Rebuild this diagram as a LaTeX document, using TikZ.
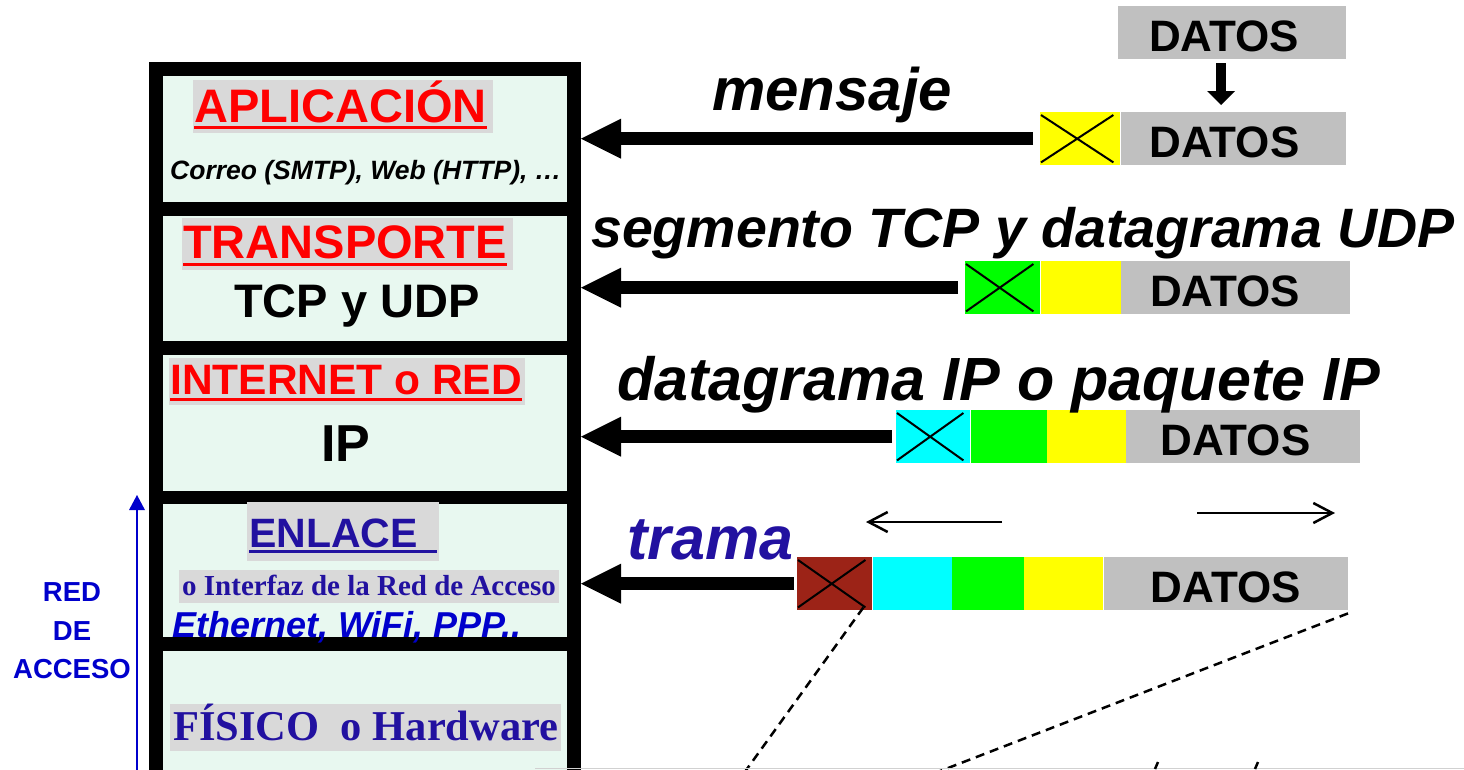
\documentclass[tikz,border=0pt]{standalone}
\usepackage{fontspec}
\setmainfont{Liberation Sans}
\newfontfamily\serifb{Liberation Serif}
\usetikzlibrary{arrows.meta,calc,positioning}
\definecolor{mint}{RGB}{232,248,240}
\definecolor{hlgray}{RGB}{217,217,217}
\definecolor{pktgray}{RGB}{192,192,192}
\definecolor{indigo}{RGB}{34,17,160}
\definecolor{brightblue}{RGB}{0,0,204}
\definecolor{brick}{RGB}{156,35,23}
\definecolor{hdryellow}{RGB}{255,255,0}
\definecolor{hdrgreen}{RGB}{0,255,0}
\definecolor{hdrcyan}{RGB}{0,255,255}
\newcommand{\fsz}[1]{\fontsize{#1}{#1}\selectfont}

\begin{document}
\begin{tikzpicture}[x=1pt,y=-1pt,
	stackbox/.style={fill=mint, minimum width=404pt, inner sep=0, anchor=north west},
	tag/.style={fill=hlgray, inner ysep=0, inner xsep=1pt, anchor=base west},
	cell/.style={minimum width=#1, minimum height=53pt, inner sep=0, anchor=north west},
	datos/.style={cell=#1, fill=pktgray, text width=#1, align=left, text height=38pt, text depth=0pt, font=\bfseries\fsz{44}},
	bigarr/.style={line width=13pt, -{Triangle[length=40pt,width=40pt,line width=0pt]}, shorten <=7pt},
	xcross/.style={line width=2pt},
	cutline/.style={line width=2.5pt, dash pattern=on 9pt off 6pt},
	thinarr/.style={line width=2.5pt, -{Straight Barb[length=19pt,width=20pt]}},
	heading/.style={anchor=base west, inner sep=0, font=\bfseries\itshape\fsz{#1}}]
		\useasboundingbox (0,0) rectangle (1464,769);

		% pila de capas
		\fill (149,62) rectangle (581,790);
		\coordinate (StackE) at (581,0);
		\node[stackbox, minimum height=126pt] (App) at (163,76) {};
		\node[stackbox, minimum height=125pt] (Trans) at (163,216) {};
		\node[stackbox, minimum height=136pt] (Net) at (163,355) {};
		\node[stackbox, minimum height=133pt] (Link) at (163,504) {};
		\node[stackbox, minimum height=140pt] (Phys) at (163,651) {};

		\node[tag, text height=42pt, text depth=11pt, text=red, font=\bfseries\fsz{47}] (AppTag) at (193,122) {APLICACIÓN\hspace*{5pt}};
		\draw[red, line width=3pt] ($(AppTag.base west)+(1,5)$) -- ($(AppTag.base east)+(-6,5)$);
		\node[anchor=base west, inner sep=0, font=\bfseries\itshape\fsz{26.5}] (Correo) at (170,179) {Correo (SMTP), Web (HTTP), …};

		\node[tag, text height=40pt, text depth=12pt, text=red, font=\bfseries\fsz{47}] (TransTag) at (182,258) {TRANSPORTE\hspace*{5pt}};
		\draw[red, line width=3pt] ($(TransTag.base west)+(1,6.5)$) -- ($(TransTag.base east)+(-6,6.5)$);
		\node[anchor=base, inner sep=0, font=\bfseries\fsz{47}] (TcpUdp) at (357,317) {TCP y UDP};

		\node[tag, text height=36pt, text depth=11pt, text=red, font=\bfseries\fsz{42.5}] (NetTag) at (169,394) {INTERNET o RED\hspace*{2pt}};
		\draw[red, line width=3pt] ($(NetTag.base west)+(1,5.5)$) -- ($(NetTag.base east)+(-3,5.5)$);
		\node[anchor=base, inner sep=0, font=\bfseries\fsz{52}] (IpTxt) at (346,461) {IP};

		\node[tag, inner xsep=2pt, text height=45pt, text depth=14pt, text=indigo, font=\bfseries\fsz{41}] (LinkTag) at (247,547) {ENLACE\hspace*{19pt}};
		\draw[indigo, line width=3pt] ($(LinkTag.base west)+(2,4)$) -- ($(LinkTag.base east)+(-2,4)$);
		\node[tag, inner xsep=3pt, text height=25pt, text depth=8pt, text=indigo, font=\serifb\bfseries\fsz{29}] (AccTag) at (179,595) {o Interfaz de la Red de Acceso};
		\node[anchor=base west, inner sep=0, text=brightblue, font=\bfseries\itshape\fsz{36}] (EthTxt) at (172,637) {Ethernet, WiFi, PPP..};

		\node[tag, inner xsep=3pt, text height=36pt, text depth=11pt, text=indigo, font=\serifb\bfseries\fsz{42.5}] (PhysTag) at (170,740) {FÍSICO\ \ o Hardware};

		\node[align=center, inner sep=0, text=brightblue, font=\bfseries\fontsize{27.5}{38.5}\selectfont] (RedAcc) at (72,631) {RED\\DE\\ACCESO};
		\coordinate (AccBot) at (137,780);
		\coordinate (AccTop) at (137,495);
		\draw[brightblue, line width=2.5pt, -{Triangle[length=15pt,width=16pt,line width=0pt]}] (AccBot) -- (AccTop);

		% unidades de datos
		\node[datos=228pt] (D0) at (1118,6) {\hspace*{31pt}DATOS};

		\node[cell=80pt, fill=hdryellow] (Y1) at (1040,112) {};
		\node[datos=225pt, right=0pt of Y1] (D1) {\hspace*{29pt}DATOS};

		\node[cell=75pt, fill=hdrgreen] (G2) at (965,261) {};
		\node[cell=80pt, fill=hdryellow, right=0pt of G2] (Y2) {};
		\node[datos=229pt, right=0pt of Y2] (D2) {\hspace*{29pt}DATOS};

		\node[cell=74pt, fill=hdrcyan] (C3) at (896,410) {};
		\node[cell=76pt, fill=hdrgreen, right=0pt of C3] (G3) {};
		\node[cell=79pt, fill=hdryellow, right=0pt of G3] (Y3) {};
		\node[datos=234pt, right=0pt of Y3] (D3) {\hspace*{34pt}DATOS};

		\node[cell=75pt, fill=brick] (B4) at (797,557) {};
		\node[cell=79pt, fill=hdrcyan, right=0pt of B4] (C4) {};
		\node[cell=72pt, fill=hdrgreen, right=0pt of C4] (G4) {};
		\node[cell=79pt, fill=hdryellow, right=0pt of G4] (Y4) {};
		\node[datos=244pt, right=0pt of Y4] (D4) {\hspace*{47pt}DATOS};

		\foreach \n in {Y1,G2,C3,B4}
			\draw[xcross] ($(\n.north west)+(1,3)$) -- ($(\n.south east)+(-7,-3)$)
				($(\n.south west)+(1,-3)$) -- ($(\n.north east)+(-7,3)$);

		\draw[line width=10pt, -{Triangle[length=14pt,width=28pt,line width=0pt]}, shorten <=4pt, shorten >=7pt]
			([xshift=-11pt]D0.south) -- ([xshift=-11pt]D0.south |- D1.north);

		\draw[bigarr] (Y1.west) -- (Y1.west -| StackE);
		\draw[bigarr] (G2.west) -- (G2.west -| StackE);
		\draw[bigarr, shorten <=4pt] (C3.west) -- (C3.west -| StackE);
		\draw[bigarr, shorten <=3pt] (B4.west) -- (B4.west -| StackE);

		\node[heading=60] (Msg) at (712,110) {mensaje};
		\node[heading=55.5] (SegTxt) at (591,247) {segmento TCP y datagrama UDP};
		\node[heading=61] (DgTxt) at (617,400) {datagrama IP o paquete IP};
		\node[heading=61, text=indigo] (TramaTxt) at (627,559) {trama};

		\coordinate (LeftTail) at (1002,522);
		\coordinate (LeftHead) at (866,522);
		\coordinate (RightTail) at (1197,513);
		\coordinate (RightHead) at (1335,513);
		\draw[thinarr] (LeftTail) -- (LeftHead);
		\draw[thinarr] (RightTail) -- (RightHead);

		\coordinate (CutA) at (739,780);
		\coordinate (CutB) at (917,780);
		\draw[cutline] ($(B4.south east)+(-9,-3)$) -- (CutA);
		\draw[cutline] ($(D4.south east)+(0,3)$) -- (CutB);

		\draw[black!18, line width=1.5pt] (535,768.5) -- (1464,768.5);
		\draw[line width=2.5pt] (1158,762) -- (1155,769);
		\draw[line width=2.5pt] (1258,762) -- (1255,769);
\end{tikzpicture}
\end{document}
